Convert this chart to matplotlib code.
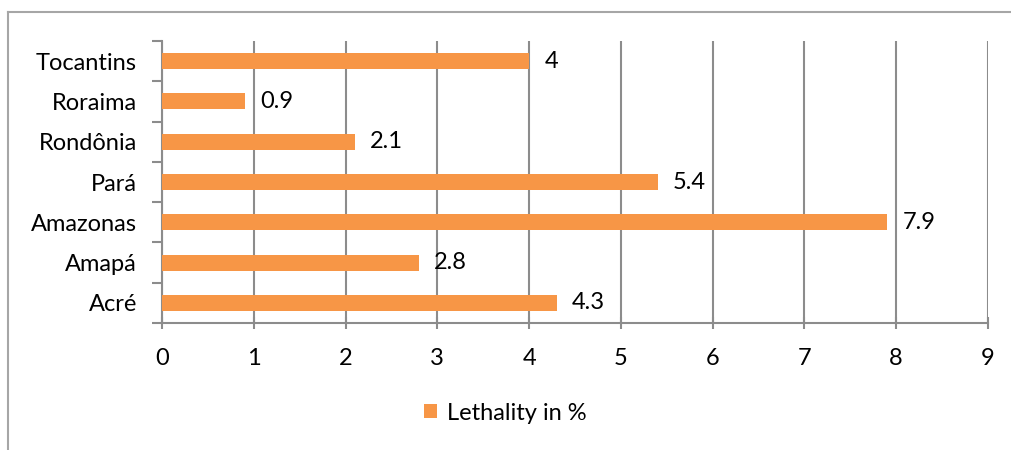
import matplotlib.pyplot as plt
from matplotlib.lines import Line2D
from matplotlib.ticker import FixedLocator, NullFormatter
import numpy as np

states = ["Acré", "Amapá", "Amazonas", "Pará", "Rondônia", "Roraima", "Tocantins"]
lethality = [4.3, 2.8, 7.9, 5.4, 2.1, 0.9, 4.0]
value_labels = ["4.3", "2.8", "7.9", "5.4", "2.1", "0.9", "4"]
series_name = "Lethality in %"

plt.rcParams["font.family"] = ["Lato", "DejaVu Sans"]
plt.rcParams["font.size"] = 17

orange = "#F79646"
axis_gray = "#8c8c8c"

fig = plt.figure(figsize=(10.11, 4.5), dpi=100)
ax = fig.add_axes([0.1602, 0.2822, 0.8170, 0.6267])

y = np.arange(len(states))
bars = ax.barh(y, lethality, height=0.4, color=orange, zorder=3, label=series_name)

for yi, v, lab in zip(y, lethality, value_labels):
    ax.annotate(lab, (v, yi), xytext=(11, 0), textcoords="offset points",
                ha="left", va="center", fontsize=17, color="black")

ax.set_xlim(0, 9)
ax.set_ylim(-0.5, len(states) - 0.5)
ax.set_xticks(range(10))
ax.set_yticks(y)
ax.set_yticklabels(states)
ax.tick_params(axis="y", length=0, pad=18)
ax.yaxis.set_minor_locator(FixedLocator(np.arange(-0.5, len(states), 1.0)))
ax.yaxis.set_minor_formatter(NullFormatter())
ax.tick_params(axis="y", which="minor", length=7, width=1.5, color=axis_gray, direction="out")
ax.tick_params(axis="x", length=8, width=1.5, color=axis_gray, direction="inout", pad=14)

ax.grid(axis="x", color=axis_gray, linewidth=1.5, zorder=0)
for side in ["top", "right"]:
    ax.spines[side].set_visible(False)
for side in ["left", "bottom"]:
    ax.spines[side].set_color(axis_gray)
    ax.spines[side].set_linewidth(1.5)

leg = fig.legend(handles=[bars], labels=[series_name], loc="center",
                 bbox_to_anchor=(0.5, 1 - 413 / 450), frameon=False,
                 handlelength=0.55, handleheight=0.55, handletextpad=0.4, fontsize=17)

# outer chart border (cropped)
fig.add_artist(Line2D([8 / 1011, 1], [1 - 12 / 450, 1 - 12 / 450], color="#a6a6a6", lw=1.5))
fig.add_artist(Line2D([8 / 1011, 8 / 1011], [0, 1 - 12 / 450], color="#a6a6a6", lw=1.5))

fig.savefig("out.png", dpi=100)
